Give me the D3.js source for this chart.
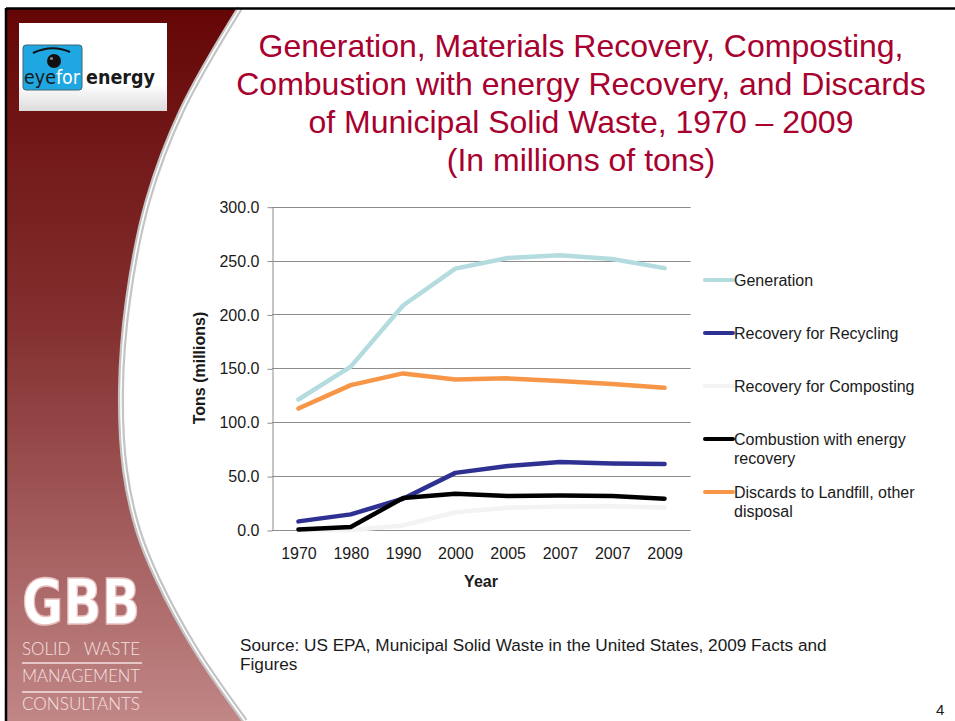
<!DOCTYPE html>
<html>
<head>
<meta charset="utf-8">
<script src="https://cdn.jsdelivr.net/npm/d3@7"></script>
<style>
  html, body { margin: 0; padding: 0; background: #fff; }
  svg { display: block; font-family: Arial, "Liberation Sans", sans-serif; }
</style>
</head>
<body>
<svg id="chart" width="955" height="721"></svg>
<script>
// data (millions of tons)
var years = ['1970', '1980', '1990', '2000', '2005', '2007', '2007', '2009'];
var generation = [121.1, 151.6, 208.3, 242.5, 252.4, 255.0, 251.4, 243.0];
var recycling = [8.0, 14.5, 29.0, 53.0, 59.3, 63.1, 61.8, 61.3];
var composting = [0.0, 0.0, 4.2, 16.5, 20.6, 21.7, 22.1, 20.8];
var combustion = [0.4, 2.7, 29.7, 33.7, 31.6, 32.0, 31.6, 29.0];
var discards = [112.7, 134.4, 145.3, 139.7, 140.7, 138.2, 135.5, 131.9];
var yTicks = [0, 50, 100, 150, 200, 250, 300];

var seriesNames = ['Generation', 'Recovery for Recycling', 'Recovery for Composting',
  'Combustion with energy recovery', 'Discards to Landfill, other disposal'];
var seriesColors = ['#b4dcdf', '#2e3192', '#f3f3f3', '#000000', '#f79646'];
var series = [generation, recycling, composting, combustion, discards];

var svg = d3.select('#chart');
var defs = svg.append('defs');

// ---- slide background ----
var grad = defs.append('linearGradient').attr('id', 'red').attr('x1', 0).attr('y1', 0).attr('x2', 0).attr('y2', 1);
grad.append('stop').attr('offset', '0%').attr('stop-color', '#650606');
grad.append('stop').attr('offset', '45%').attr('stop-color', '#843030');
grad.append('stop').attr('offset', '100%').attr('stop-color', '#c18686');

var logoGrad = defs.append('linearGradient').attr('id', 'logobg').attr('x1', 0).attr('y1', 0).attr('x2', 0).attr('y2', 1);
logoGrad.append('stop').attr('offset', '70%').attr('stop-color', '#ffffff');
logoGrad.append('stop').attr('offset', '100%').attr('stop-color', '#dcdcdc');

var edge = [[240, 8], [182, 110], [148, 200], [128, 300], [121, 390], [125, 470], [138, 530],
  [158, 580], [196, 650], [245, 721]];
var curve = d3.line().curve(d3.curveCatmullRom);

svg.append('path')
  .attr('d', curve(edge) + 'L6,721L6,8Z')
  .attr('fill', 'url(#red)');
svg.append('path').attr('d', curve(edge)).attr('fill', 'none')
  .attr('stroke', '#c4c4c4').attr('stroke-width', 6);
svg.append('path').attr('d', curve(edge)).attr('fill', 'none')
  .attr('stroke', '#ffffff').attr('stroke-width', 1.6);

svg.append('line').attr('x1', 6).attr('x2', 955).attr('y1', 8.5).attr('y2', 8.5)
  .attr('stroke', '#000').attr('stroke-width', 2.5);
svg.append('line').attr('x1', 6).attr('x2', 6).attr('y1', 8).attr('y2', 721)
  .attr('stroke', '#000').attr('stroke-width', 2.5);

// ---- eye for energy logo ----
var logo = svg.append('g');
logo.append('rect').attr('x', 19).attr('y', 23).attr('width', 148).attr('height', 88).attr('fill', 'url(#logobg)');
logo.append('rect').attr('x', 23).attr('y', 45).attr('width', 59).attr('height', 45).attr('rx', 3)
  .attr('fill', '#1ea7e1').attr('stroke', '#41667a').attr('stroke-width', 1);
logo.append('path').attr('d', 'M33,53 Q52,44 70,52').attr('fill', 'none')
  .attr('stroke', '#111').attr('stroke-width', 2.2);
logo.append('circle').attr('cx', 54).attr('cy', 61).attr('r', 7).attr('fill', '#111');
logo.append('circle').attr('cx', 51.5).attr('cy', 58.5).attr('r', 1.6).attr('fill', '#888');
var eyeText = logo.append('text').attr('x', 24).attr('y', 84).attr('font-size', 20)
  .attr('font-family', 'DejaVu Sans').attr('textLength', 56).attr('lengthAdjust', 'spacingAndGlyphs');
eyeText.append('tspan').attr('fill', '#1a1a1a').text('eye');
eyeText.append('tspan').attr('fill', '#fff').text('for');
logo.append('text').attr('x', 86).attr('y', 84).attr('font-size', 20).attr('fill', '#1a1a1a')
  .attr('font-weight', 'bold').attr('font-family', 'DejaVu Sans')
  .attr('textLength', 69).attr('lengthAdjust', 'spacingAndGlyphs').text('energy');

// ---- GBB logo ----
var gbb = svg.append('g');
gbb.append('text').attr('x', 22).attr('y', 624).attr('font-size', 62).attr('font-weight', 'bold')
  .attr('font-family', 'DejaVu Sans').attr('fill', '#fff').attr('stroke', '#e9c0c0').attr('stroke-width', 1.5)
  .attr('textLength', 118).attr('lengthAdjust', 'spacingAndGlyphs').text('GBB');
var gbbLines = [['SOLID   WASTE', 655], ['MANAGEMENT', 682], ['CONSULTANTS', 710]];
gbb.selectAll('text.sub').data(gbbLines).join('text').attr('class', 'sub')
  .attr('x', 22).attr('y', function(d) { return d[1]; })
  .attr('font-size', 18).attr('font-family', 'Lato').attr('font-weight', 300)
  .attr('fill', '#f4e2e2').attr('xml:space', 'preserve')
  .attr('textLength', 118).attr('lengthAdjust', 'spacingAndGlyphs')
  .text(function(d) { return d[0]; });
gbb.selectAll('line').data([663, 692]).join('line')
  .attr('x1', 22).attr('x2', 142).attr('y1', function(d) { return d; }).attr('y2', function(d) { return d; })
  .attr('stroke', '#f4e2e2').attr('stroke-width', 1.5);

// ---- title ----
var titleLines = ['Generation, Materials Recovery, Composting,',
  'Combustion with energy Recovery, and Discards',
  'of Municipal Solid Waste, 1970 \u2013 2009',
  '(In millions of tons)'];
svg.append('g').selectAll('text').data(titleLines).join('text')
  .attr('x', 581).attr('y', function(d, i) { return 57 + i * 38; })
  .attr('text-anchor', 'middle').attr('font-size', 32).attr('fill', '#a8002f')
  .text(function(d) { return d; });

// ---- chart ----
var x = d3.scalePoint().domain(d3.range(years.length)).range([272.3, 690.7]).padding(0.5);
var y = d3.scaleLinear().domain([0, 300]).range([530, 206.7]);

var grid = svg.append('g');
grid.selectAll('line').data(yTicks).join('line')
  .attr('x1', 272).attr('x2', 690.7)
  .attr('y1', function(d) { return Math.round(y(d)) + 0.5; })
  .attr('y2', function(d) { return Math.round(y(d)) + 0.5; })
  .attr('stroke', '#8c8c8c').attr('stroke-width', 1);

var yAxis = svg.append('g').attr('transform', 'translate(272.5,0.5)')
  .call(d3.axisLeft(y).tickValues(yTicks).tickSize(5).tickSizeOuter(0).tickFormat(d3.format('.1f')));
yAxis.select('.domain').attr('stroke', '#8c8c8c');
yAxis.selectAll('.tick line').attr('stroke', '#8c8c8c');
yAxis.selectAll('.tick text').attr('font-size', 16).attr('fill', '#1a1a1a')
  .attr('font-family', 'Arial, "Liberation Sans", sans-serif').attr('x', -13);

var xAxis = svg.append('g').attr('transform', 'translate(0,530.5)')
  .call(d3.axisBottom(x).tickSize(0).tickFormat(function(i) { return years[i]; }));
xAxis.select('.domain').remove();
xAxis.selectAll('.tick text').attr('font-size', 16).attr('fill', '#1a1a1a')
  .attr('font-family', 'Arial, "Liberation Sans", sans-serif').attr('dy', '1.58em');

svg.append('text').attr('transform', 'translate(205,368) rotate(-90)')
  .attr('text-anchor', 'middle').attr('font-size', 16).attr('font-weight', 'bold').attr('fill', '#1a1a1a')
  .text('Tons (millions)');
svg.append('text').attr('x', 481).attr('y', 587)
  .attr('text-anchor', 'middle').attr('font-size', 16).attr('font-weight', 'bold').attr('fill', '#1a1a1a')
  .text('Year');

var line = d3.line()
  .x(function(d, i) { return x(i); })
  .y(function(d) { return y(d); });

svg.append('g').selectAll('path').data(series).join('path')
  .attr('d', line)
  .attr('fill', 'none')
  .attr('stroke', function(d, i) { return seriesColors[i]; })
  .attr('stroke-width', 4.5)
  .attr('stroke-linecap', 'round')
  .attr('stroke-linejoin', 'round');

// ---- legend ----
var legendLabels = [['Generation'], ['Recovery for Recycling'], ['Recovery for Composting'],
  ['Combustion with energy', 'recovery'], ['Discards to Landfill, other', 'disposal']];
var legend = svg.append('g').selectAll('g').data(seriesNames).join('g')
  .attr('transform', function(d, i) { return 'translate(703,' + (280 + i * 53) + ')'; });
legend.append('line').attr('x1', 2).attr('x2', 30)
  .attr('stroke', function(d, i) { return seriesColors[i]; })
  .attr('stroke-width', 4).attr('stroke-linecap', 'round');
legend.append('text').attr('x', 31).attr('y', 6).attr('font-size', 16).attr('fill', '#1a1a1a')
  .selectAll('tspan').data(function(d, i) { return legendLabels[i]; }).join('tspan')
  .attr('x', 31).attr('dy', function(d, j) { return j === 0 ? 0 : 19; })
  .text(function(d) { return d; });

// ---- source & page number ----
svg.append('text').attr('font-size', 17.2).attr('fill', '#1a1a1a')
  .selectAll('tspan').data(['Source: US EPA, Municipal Solid Waste in the United States, 2009 Facts and', 'Figures'])
  .join('tspan').attr('x', 240).attr('y', function(d, i) { return 651 + i * 19; })
  .text(function(d) { return d; });
svg.append('text').attr('x', 936).attr('y', 715).attr('font-size', 15).attr('fill', '#1a1a1a').text('4');
</script>
</body>
</html>
